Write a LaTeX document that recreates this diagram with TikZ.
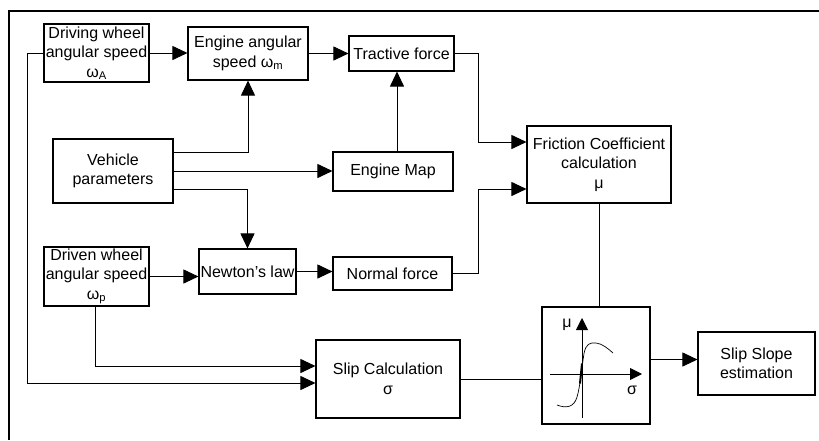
\documentclass[tikz,border=0pt]{standalone}
\usepackage{fontspec}
\setmainfont{Liberation Sans}
\usetikzlibrary{arrows.meta}
\begin{document}
\begin{tikzpicture}[x=1pt,y=-1pt,>={Triangle[length=15pt,width=14pt]},
blk/.style={draw,line width=1.1pt,align=center,inner sep=1pt,font=\fontsize{16}{19.5}\selectfont},
ln/.style={line width=0.9pt}]
\useasboundingbox (0,0) rectangle (819,440);
\draw[line width=2.4pt](9,440)--(9,11)--(819,11);
\node[blk,minimum width=105pt,minimum height=58pt](drv) at (96.5,53){Driving wheel\\angular speed\\ω\textsubscript{A}};
\node[blk,minimum width=120pt,minimum height=53pt](eng) at (248,53.5){Engine angular\\speed ω\textsubscript{m}};
\node[blk,minimum width=105pt,minimum height=35pt](trac) at (401.5,53.5){Tractive force};
\node[blk,minimum width=120pt,minimum height=64pt](veh) at (113,171){Vehicle\\parameters};
\node[blk,minimum width=120pt,minimum height=39pt](map) at (393,171.5){Engine Map};
\node[blk,minimum width=144pt,minimum height=77pt](fric) at (599,164.5){Friction Coefficient\\calculation\\μ};
\node[blk,minimum width=105pt,minimum height=59pt](dvn) at (96.5,276.5){Driven wheel\\angular speed\\ω\textsubscript{p}};
\node[blk,minimum width=97pt,minimum height=45pt](newt) at (247.5,271.5){Newton's law};
\node[blk,minimum width=119pt,minimum height=33pt](norm) at (392.5,273.5){Normal force};
\node[blk,minimum width=144pt,minimum height=78pt](slip) at (388,379){Slip Calculation\\σ};
\node[blk,minimum width=108pt,minimum height=117pt](graph) at (596,365.5){};
\node[blk,minimum width=117pt,minimum height=63pt](slope) at (756.5,363.5){Slip Slope\\estimation};
\draw[ln,->](drv.east)--(drv.east-|eng.west);
\draw[ln,->](eng.east)--(eng.east-|trac.west);
\draw[ln,->]([yshift=19pt]veh.east)-|(eng.south);
\draw[ln,->](veh.east)--(veh.east-|map.west);
\draw[ln,->]([yshift=-18pt]veh.east)-|(newt.north);
\draw[ln,->]([xshift=4pt]map.north)--([xshift=4pt]map.north|-trac.south);
\draw[ln,->](trac.east)--++(24,0)|-([yshift=22.5pt]fric.west);
\draw[ln,->](norm.east)--++(26,0)|-([yshift=-24.5pt]fric.west);
\draw[ln,->](drv.west)--++(-16,0)|-([yshift=-4pt]slip.west);
\draw[ln,->](dvn.east)--(dvn.east-|newt.west);
\draw[ln,->](newt.east)--(newt.east-|norm.west);
\draw[ln,->]([xshift=-1.5pt]dvn.south)|-([yshift=13pt]slip.west);
\draw[ln](slip.east)--(slip.east-|graph.west);
\draw[ln](fric.south)--(fric.south|-graph.north);
\draw[ln,->]([yshift=6pt]graph.east)--([yshift=6pt]graph.east-|slope.west);
\begin{scope}[shift={(graph.center)},>={Triangle[length=12pt,width=12pt]}]
\draw[ln,->](-14,52.5)--(-14,-47.5);
\draw[ln,->](-46,8.5)--(46,8.5);
\draw(-29,-40.5)node{\fontsize{16}{19.5}\selectfont μ}
(36,24.5)node{\fontsize{16}{19.5}\selectfont σ};
\draw[line width=0.7pt](-39,39.5)..controls(-30,43)and(-22,42)..(-19,31.5)
..controls(-16,22)and(-14,0)..(-12,-12)
..controls(-10,-22)and(-6,-23)..(0,-22.5)
..controls(6,-22)and(12,-17)..(17,-12.5);
\draw[line width=2pt](-16,18)--(-14,-2);
\end{scope}
\end{tikzpicture}
\end{document}
